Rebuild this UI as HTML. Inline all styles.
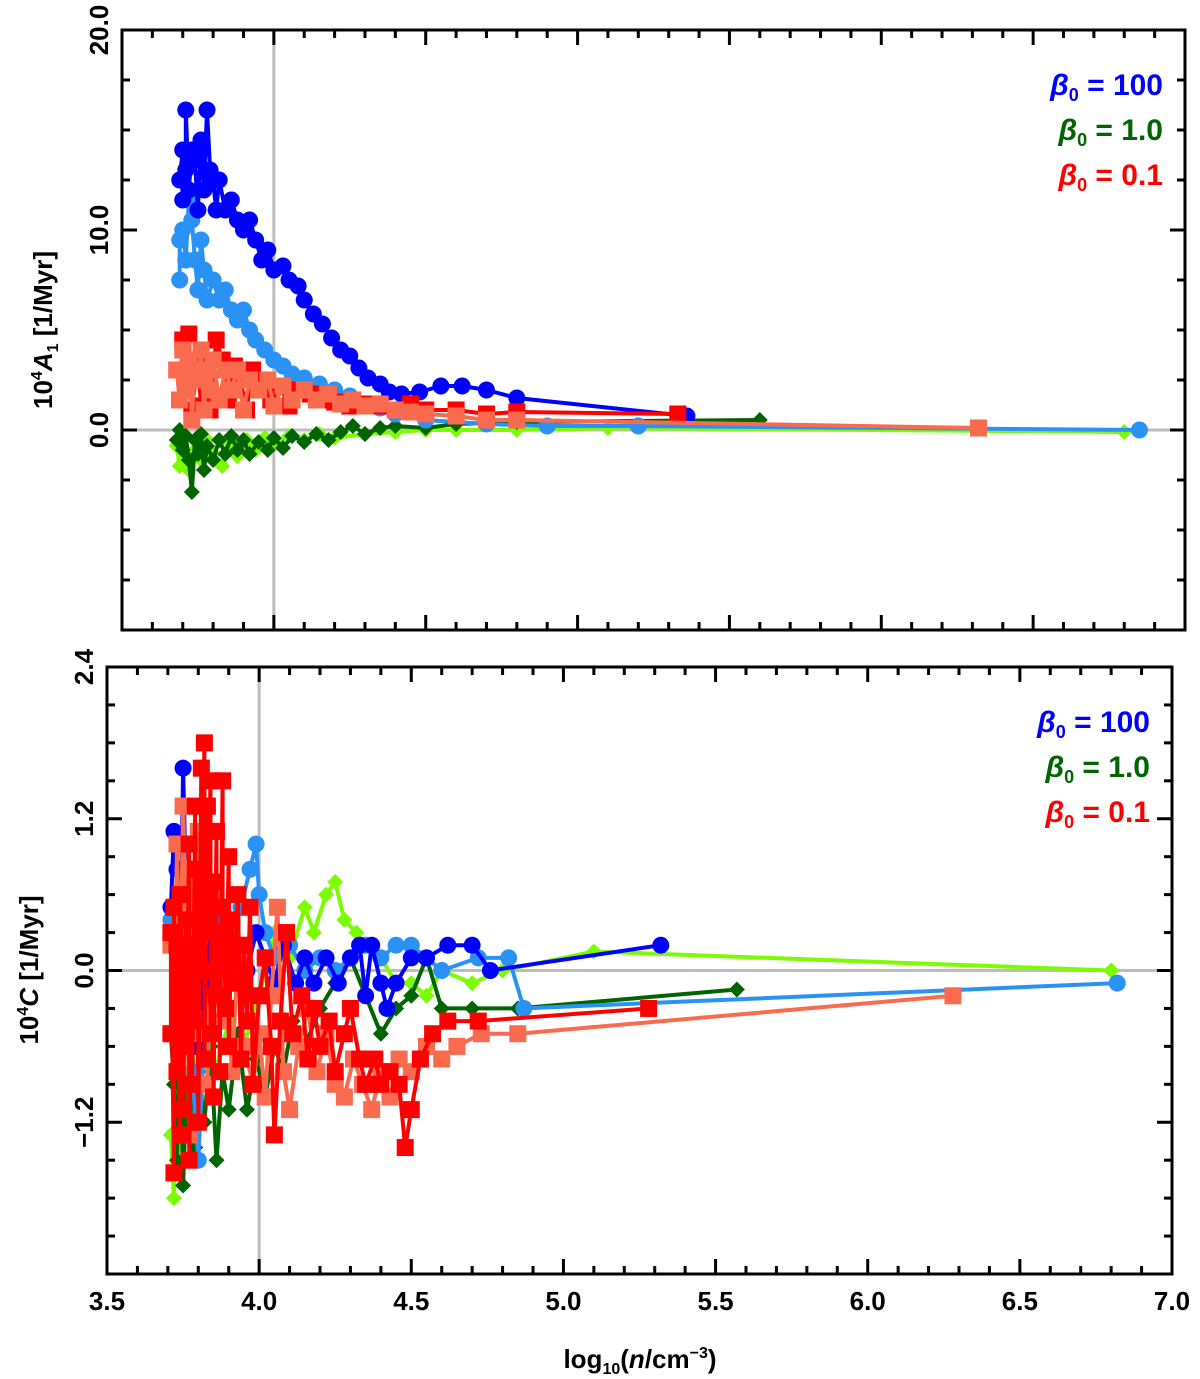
<!DOCTYPE html>
<html><head><meta charset="utf-8">
<style>
html,body{margin:0;padding:0;background:#fff;}
svg{display:block;font-family:"Liberation Sans",sans-serif;font-weight:bold;}
</style></head>
<body>
<svg id="chart" width="1200" height="1379" viewBox="0 0 1200 1379" xmlns="http://www.w3.org/2000/svg">
<g id="top"></g>
<g id="bot"></g>
<text transform="translate(52,330) rotate(-90)" text-anchor="middle" font-size="26">10<tspan font-size="16" dy="-10">4</tspan><tspan dy="10" font-style="italic">A</tspan><tspan font-size="16" dy="6">1</tspan><tspan dy="-6"> [1/Myr]</tspan></text>
<text transform="translate(38,970) rotate(-90)" text-anchor="middle" font-size="26">10<tspan font-size="16" dy="-10">4</tspan><tspan dy="10" font-style="italic">C</tspan><tspan> [1/Myr]</tspan></text>
<text x="640" y="1368" text-anchor="middle" font-size="26">log<tspan font-size="16" dy="6">10</tspan><tspan dy="-6">(</tspan><tspan font-style="italic">n</tspan>/cm<tspan font-size="16" dy="-10">−3</tspan><tspan dy="10">)</tspan></text>
</svg>
<script>
// ---- top panel data (x = log10 n, y = 10^4 A1) ----
const topBlueX=[3.69,3.70,3.70,3.71,3.71,3.72,3.73,3.74,3.75,3.76,3.77,3.78,3.79,3.80,3.81,3.82,3.84,3.86,3.88,3.90,3.92,3.94,3.96,3.98,4.00,4.03,4.05,4.08,4.10,4.13,4.16,4.19,4.22,4.25,4.28,4.31,4.35,4.38,4.42,4.48,4.55,4.62,4.70,4.80,5.36];
const topBlueY=[12.5,14,11.5,13,16,12,14,13.5,11,14.5,12,16,13,12.5,11,12.5,11,11.5,10.5,10,10.5,9.5,8.5,9,8,8.2,7.5,7.2,6.5,5.8,5.3,4.6,4,3.7,3.1,2.6,2.3,1.9,1.8,1.9,2.2,2.2,2.0,1.6,0.7];
const topLBlueX=[3.69,3.69,3.70,3.71,3.72,3.73,3.74,3.75,3.76,3.77,3.78,3.80,3.82,3.84,3.86,3.88,3.90,3.92,3.94,3.97,4.00,4.03,4.06,4.10,4.15,4.20,4.25,4.30,4.35,4.40,4.50,4.70,4.90,5.20,6.85];
const topLBlueY=[7.5,9.5,10,8.5,11.5,10.5,8.5,7,9.5,8,6.5,7.5,6.5,7,6,5.5,6,5,4.5,4,3.5,3.2,2.8,2.6,2.3,2,1.7,1.3,1.1,0.8,0.5,0.3,0.2,0.2,0];
const topRedX=[3.69,3.70,3.71,3.72,3.73,3.75,3.76,3.78,3.79,3.81,3.83,3.85,3.87,3.89,3.91,3.93,3.96,3.99,4.02,4.05,4.08,4.12,4.16,4.20,4.25,4.30,4.35,4.40,4.45,4.50,4.60,4.70,4.80,5.33];
const topRedY=[1.5,4.5,3,4.8,1,3.5,1.2,2.5,1,4.5,3.5,1.5,3.2,2.5,1,3,2.5,1.5,2.2,1.2,2,1.8,1.5,1.4,1.2,1.3,1.2,1,1.3,1,1,0.8,0.9,0.8];
const topSalmonX=[3.68,3.69,3.70,3.71,3.72,3.73,3.74,3.75,3.76,3.77,3.78,3.79,3.80,3.82,3.84,3.86,3.88,3.90,3.92,3.95,3.98,4.00,4.03,4.06,4.10,4.14,4.18,4.22,4.26,4.30,4.35,4.40,4.45,4.50,4.60,4.70,4.80,6.32];
const topSalmonY=[3,1.5,4,2,3.5,0.5,3,2.5,4,1,3,2,3.5,1.5,3,2,3,1,2.5,2,2.5,1.2,2.2,1.5,2,1.5,1.8,1.3,1.5,1.2,1.3,1,0.9,0.8,0.7,0.5,0.5,0.1];
const topDGreenX=[3.68,3.69,3.70,3.71,3.72,3.73,3.74,3.75,3.76,3.77,3.78,3.80,3.82,3.84,3.86,3.88,3.90,3.92,3.95,3.98,4.00,4.03,4.06,4.10,4.14,4.18,4.22,4.26,4.30,4.35,4.40,4.50,4.60,4.80,5.60];
const topDGreenY=[-0.5,0,-1,-0.3,-1.5,-3.1,-0.5,-1.2,-0.2,-2,-0.8,-1.5,-0.5,-1.2,-0.3,-1,-0.5,-1.2,-0.6,-1,-0.4,-0.9,-0.3,-0.6,-0.2,-0.5,-0.1,0.2,-0.2,0.1,0.2,0.1,0.3,0.4,0.5];
const topLGreenX=[3.68,3.69,3.70,3.72,3.74,3.76,3.78,3.80,3.83,3.86,3.88,3.91,3.94,3.97,4.00,4.05,4.10,4.15,4.20,4.30,4.40,4.50,4.60,4.80,5.10,6.80];
const topLGreenY=[-0.8,-1.8,-0.3,-2,-1,-1.5,-0.5,-1.2,-1.8,-0.7,-1.3,-0.5,-1,-0.4,-0.7,-0.3,-0.5,-0.2,-0.4,-0.2,-0.1,0,0,0,0.1,-0.1];
// ---- bottom panel data (y = 10^4 C) ----
const botBlueX=[3.71,3.72,3.73,3.74,3.75,3.76,3.77,3.78,3.79,3.80,3.82,3.84,3.86,3.88,3.90,3.93,3.96,3.99,4.02,4.05,4.08,4.12,4.15,4.18,4.22,4.26,4.30,4.33,4.35,4.37,4.40,4.42,4.45,4.50,4.55,4.62,4.70,4.76,5.32];
const botBlueY=[0.5,1.1,0.8,0,1.6,0.6,-0.3,0.3,-0.6,0.1,-0.4,0.3,-0.2,0.1,-0.1,0.2,0,0.3,0.1,-0.1,0.2,-0.1,0.1,-0.1,0.1,-0.1,0.1,0.2,-0.2,0.2,-0.1,-0.3,-0.1,0.1,0.1,0.2,0.2,0,0.2];
const botLBlueX=[3.71,3.72,3.73,3.74,3.76,3.78,3.80,3.82,3.85,3.88,3.91,3.94,3.97,3.99,4.00,4.02,4.05,4.10,4.15,4.20,4.25,4.30,4.35,4.40,4.45,4.50,4.55,4.60,4.72,4.82,4.87,6.82];
const botLBlueY=[0.4,0.2,0.8,-0.3,0.3,-0.8,-1.5,-0.5,0.1,0.4,0.2,0.5,0.8,1.0,0.6,0.3,0.1,0.2,0,0.1,0,0.1,0.2,0.1,0.2,0.2,0.1,0,0.1,0.1,-0.3,-0.1];
const botRedX=[3.71,3.71,3.72,3.72,3.73,3.73,3.74,3.74,3.75,3.75,3.76,3.76,3.77,3.77,3.78,3.78,3.79,3.79,3.80,3.80,3.81,3.81,3.82,3.82,3.83,3.83,3.84,3.84,3.85,3.85,3.86,3.86,3.87,3.87,3.88,3.88,3.89,3.90,3.90,3.91,3.92,3.93,3.94,3.95,3.96,3.97,3.98,4.00,4.02,4.04,4.05,4.07,4.09,4.11,4.14,4.16,4.18,4.20,4.23,4.25,4.28,4.30,4.33,4.35,4.38,4.40,4.43,4.46,4.48,4.50,4.53,4.57,4.62,4.72,5.28];
const botRedY=[-0.5,0.3,-1.6,0.5,-0.8,0.2,-1.3,0.6,-0.2,-1.1,0.4,-0.6,1.0,-1.5,0.2,-0.9,1.3,-0.4,0.8,-1.2,1.6,0,1.8,-0.7,1.3,0.3,1.5,-0.5,0.7,-1,1.1,-0.2,0.3,-0.8,1.5,0.5,-0.3,0.9,-0.6,0.4,-0.1,0.6,-0.7,0.2,-0.4,0.5,-0.9,-0.2,0.1,-0.6,-1.3,-0.4,0.3,-0.5,-0.2,-0.7,-0.3,-0.6,-0.4,-0.8,-0.5,-0.3,-0.7,-0.9,-0.7,-0.9,-0.8,-0.9,-1.4,-1.1,-0.7,-0.5,-0.4,-0.4,-0.3];
const botSalmonX=[3.71,3.72,3.73,3.74,3.75,3.76,3.77,3.78,3.79,3.80,3.82,3.83,3.85,3.87,3.89,3.91,3.93,3.95,3.98,4.00,4.02,4.04,4.06,4.08,4.10,4.13,4.16,4.19,4.22,4.25,4.28,4.31,4.34,4.37,4.40,4.43,4.46,4.50,4.55,4.60,4.65,4.73,4.85,6.28];
const botSalmonY=[0.2,-0.5,1.0,-0.2,1.3,0.5,-1.3,0.8,-0.5,1.1,0.3,-0.9,0.6,-0.4,0.3,-0.8,0.1,-0.6,-0.9,-0.5,-1.0,-0.2,0.5,-0.8,-1.1,-0.6,-0.3,-0.8,-0.5,-0.9,-1.0,-0.7,-0.9,-1.1,-0.8,-1.0,-0.7,-0.8,-0.6,-0.7,-0.6,-0.5,-0.5,-0.2];
const botDGreenX=[3.71,3.72,3.73,3.74,3.75,3.76,3.77,3.78,3.79,3.80,3.82,3.84,3.86,3.88,3.90,3.93,3.96,3.99,4.02,4.05,4.08,4.11,4.15,4.20,4.25,4.30,4.35,4.40,4.45,4.50,4.55,4.60,4.70,4.85,5.57];
const botDGreenY=[-0.5,-0.9,-1.5,-0.4,-1.7,-1.0,-1.3,-0.6,-1.4,-0.8,-1.2,-0.6,-1.5,-0.8,-1.1,-0.5,-1.1,-0.7,-1.0,-0.6,-0.8,-0.4,-0.6,-0.3,-0.1,0.1,-0.2,-0.5,-0.3,-0.2,0.1,-0.3,-0.3,-0.3,-0.15];
const botLGreenX=[3.71,3.72,3.73,3.74,3.76,3.78,3.80,3.83,3.86,3.90,3.95,4.00,4.05,4.10,4.15,4.18,4.22,4.25,4.28,4.32,4.35,4.40,4.45,4.50,4.55,4.60,4.70,4.80,5.10,6.80];
const botLGreenY=[-1.3,-1.8,-0.9,-1.5,-1.2,-0.6,-1.0,-0.3,-0.8,-0.4,-0.6,-0.2,0.3,0.1,0.5,0.3,0.6,0.7,0.4,0.3,0.2,0.1,-0.1,-0.1,-0.2,0,-0.1,0,0.15,0];
const xTicks=["3.5","4.0","4.5","5.0","5.5","6.0","6.5","7.0"];
const topYTicks=["0.0","10.0","20.0"];
const botYTicks=["−1.2","0.0","1.2","2.4"];
const legendLabels=["100","1.0","0.1"];

const NS="http://www.w3.org/2000/svg";
function mk(tag,attrs,parent){const e=document.createElementNS(NS,tag);for(const k in attrs)e.setAttribute(k,attrs[k]);parent.appendChild(e);return e;}

function panel(g,L,R,T,B,ymin,ymax,yMajor,yMinor,yLabels,yLabelVals,series,legY,gridX,prefix,showXLabels){
  const X=v=>L+(v-3.5)/(3.5)*(R-L);
  const Y=v=>B-(v-ymin)/(ymax-ymin)*(B-T);
  let gl=mk('line',{x1:X(gridX),x2:X(gridX),y1:T,y2:B,stroke:'#bdbdbd','stroke-width':3},g);
  
  
  gl=mk('line',{x1:L,x2:R,y1:Y(0),y2:Y(0),stroke:'#bdbdbd','stroke-width':3},g);
  
  
  series.forEach(s=>{
    const sg=mk('g',{},g);
    
    
    const pts=s.x.map((v,i)=>X(v).toFixed(1)+','+Y(s.y[i]).toFixed(1)).join(' ');
    mk('polyline',{points:pts,fill:'none',stroke:s.c,'stroke-width':4,'stroke-linejoin':'round'},sg);
    s.x.forEach((v,i)=>{
      const cx=X(v),cy=Y(s.y[i]);let m;
      if(s.m==='c')m=mk('circle',{cx:cx,cy:cy,r:8.5,fill:s.c},sg);
      else if(s.m==='s')m=mk('rect',{x:cx-8.5,y:cy-8.5,width:17,height:17,fill:s.c},sg);
      else m=mk('polygon',{points:`${cx},${cy-8} ${cx+8},${cy} ${cx},${cy+8} ${cx-8},${cy}`,fill:s.c},sg);
      
      
    });
  });
  const fr=mk('rect',{x:L,y:T,width:R-L,height:B-T,fill:'none',stroke:'#000','stroke-width':3},g);
  
  
  for(let k=0;k<=35;k++){
    const v=3.5+k*0.1;const x=X(v);const len=(k%5===0)?15:8;
    mk('line',{x1:x,x2:x,y1:B,y2:B-len,stroke:'#000','stroke-width':3},g);
    mk('line',{x1:x,x2:x,y1:T,y2:T+len,stroke:'#000','stroke-width':3},g);
  }
  if(showXLabels){
    xTicks.forEach((t,i)=>{
      const tx=mk('text',{x:X(parseFloat(t)),y:B+36,'text-anchor':'middle','font-size':26},g);
      tx.textContent=t;
      
      
    });
  }
  const n=Math.round((ymax-ymin)/yMinor);
  for(let k=0;k<=n;k++){
    const v=ymin+k*yMinor;const y=Y(v);
    const major=Math.abs((v/yMajor)-Math.round(v/yMajor))<1e-6;const len=major?15:8;
    mk('line',{x1:L,x2:L+len,y1:y,y2:y,stroke:'#000','stroke-width':3},g);
    mk('line',{x1:R,x2:R-len,y1:y,y2:y,stroke:'#000','stroke-width':3},g);
  }
  yLabels.forEach((t,i)=>{
    const y=Y(yLabelVals[i]);
    const tx=mk('text',{transform:`translate(${L-14},${y}) rotate(-90)`,'text-anchor':'middle','font-size':26},g);
    tx.textContent=t;
    
    
  });
  const cols=['#0000ff','#006400','#ff0000'];
  legendLabels.forEach((t,i)=>{
    const tx=mk('text',{x:R-22,y:legY+i*45,'text-anchor':'end','font-size':30,fill:cols[i]},g);
    tx.innerHTML='<tspan font-style="italic">β</tspan><tspan font-size="18" dy="6">0</tspan><tspan dy="-6"> = '+t+'</tspan>';
    
    
  });
}
const C={blue:'#0000ff',lblue:'#2a92f5',dgreen:'#006400',lgreen:'#7cfc00',red:'#ff0000',salmon:'#fa6a4e'};
panel(document.getElementById('top'),122,1185,30,630,-10,20,10,2.5,topYTicks,[0,10,20],[
 {name:'beta1-light',x:topLGreenX,y:topLGreenY,c:C.lgreen,m:'d'},
 {name:'beta1',x:topDGreenX,y:topDGreenY,c:C.dgreen,m:'d'},
 {name:'beta100-light',x:topLBlueX,y:topLBlueY,c:C.lblue,m:'c'},
 {name:'beta100',x:topBlueX,y:topBlueY,c:C.blue,m:'c'},
 {name:'beta01',x:topRedX,y:topRedY,c:C.red,m:'s'},
 {name:'beta01-light',x:topSalmonX,y:topSalmonY,c:C.salmon,m:'s'}
],95,4.0,'top',false);
panel(document.getElementById('bot'),107,1172,667,1274,-2.4,2.4,1.2,0.3,botYTicks,[-1.2,0,1.2,2.4],[
 {name:'beta1-light',x:botLGreenX,y:botLGreenY,c:C.lgreen,m:'d'},
 {name:'beta1',x:botDGreenX,y:botDGreenY,c:C.dgreen,m:'d'},
 {name:'beta100-light',x:botLBlueX,y:botLBlueY,c:C.lblue,m:'c'},
 {name:'beta100',x:botBlueX,y:botBlueY,c:C.blue,m:'c'},
 {name:'beta01-light',x:botSalmonX,y:botSalmonY,c:C.salmon,m:'s'},
 {name:'beta01',x:botRedX,y:botRedY,c:C.red,m:'s'}
],732,4.0,'bottom',true);
</script>
</body></html>
